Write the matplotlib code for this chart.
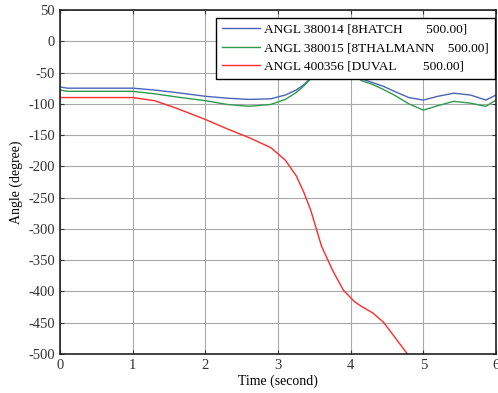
import matplotlib
matplotlib.use('Agg')
import matplotlib.pyplot as plt

# time samples (s) and joint angles (degree)
t = [0, 0.1, 0.5, 1.0, 1.3, 1.6, 2.0, 2.3, 2.6, 2.9, 3.1, 3.25, 3.35, 3.45,
     3.6, 3.75, 3.9, 4.05, 4.15, 4.3, 4.45, 4.6, 4.8, 5.0, 5.2, 5.42, 5.65,
     5.86, 6.0]
hatch = [-73, -75, -75, -75, -78, -82, -88, -91, -93, -92, -86, -78, -70, -59,
         -40, -30, -35, -52, -60, -66, -72, -80, -90, -94, -88, -83, -86,
         -94, -86]
thalmann = [-78, -80, -80, -80, -84, -89, -95, -101, -104, -101, -93, -82, -72,
            -60, -42, -32, -37, -54, -63, -69, -77, -86, -100, -110, -103, -96,
            -99, -104, -94]
duval = [-90, -90, -90, -90, -95, -107, -125, -140, -154, -170, -190, -215,
         -240, -270, -328, -366, -398, -416, -424, -434, -449, -472, -503,
         -540, -580, -620, -660, -700, -720]
labels = ['ANGL 380014 [8HATCH       500.00]',
          'ANGL 380015 [8THALMANN    500.00]',
          'ANGL 400356 [DUVAL        500.00]']

plt.rcParams['font.family'] = ['Liberation Serif', 'DejaVu Serif']
plt.rcParams['axes.unicode_minus'] = False

fig = plt.figure(figsize=(4.98, 3.93), dpi=100)
ax = fig.add_axes([0.1205, 0.0992, 0.8755, 0.8754])

ax.plot(t, hatch, color='#4a63b8', lw=1.0, label=labels[0])
ax.plot(t, thalmann, color='#2e9a4e', lw=1.0, label=labels[1])
ax.plot(t, duval, color='#ff2a2a', lw=1.0, label=labels[2])

ax.set_xlim(0, 6)
ax.set_ylim(-500, 50)
ax.set_xticks(range(0, 7))
ax.set_yticks(range(-500, 51, 50))
ax.grid(True, color='#a8a8a8', lw=0.8, ls='-')
ax.tick_params(direction='in', top=True, right=True, labelsize=10.5,
               length=3, colors='#333333')
for s in ax.spines.values():
    s.set_color('#222222')
    s.set_linewidth(1.2)

ax.set_xlabel('Time (second)', fontsize=10, labelpad=2)
ax.set_ylabel('Angle (degree)', fontsize=10, labelpad=4)

leg = ax.legend(loc='upper right', bbox_to_anchor=(0.998, 0.978),
                fontsize=9.6, fancybox=False, framealpha=1,
                edgecolor='black', handlelength=2.9, handletextpad=0.3,
                borderaxespad=0, labelspacing=0.45, borderpad=0.45)
leg.get_frame().set_linewidth(1.0)
leg.set_zorder(10)

fig.savefig('out.png', dpi=100)
